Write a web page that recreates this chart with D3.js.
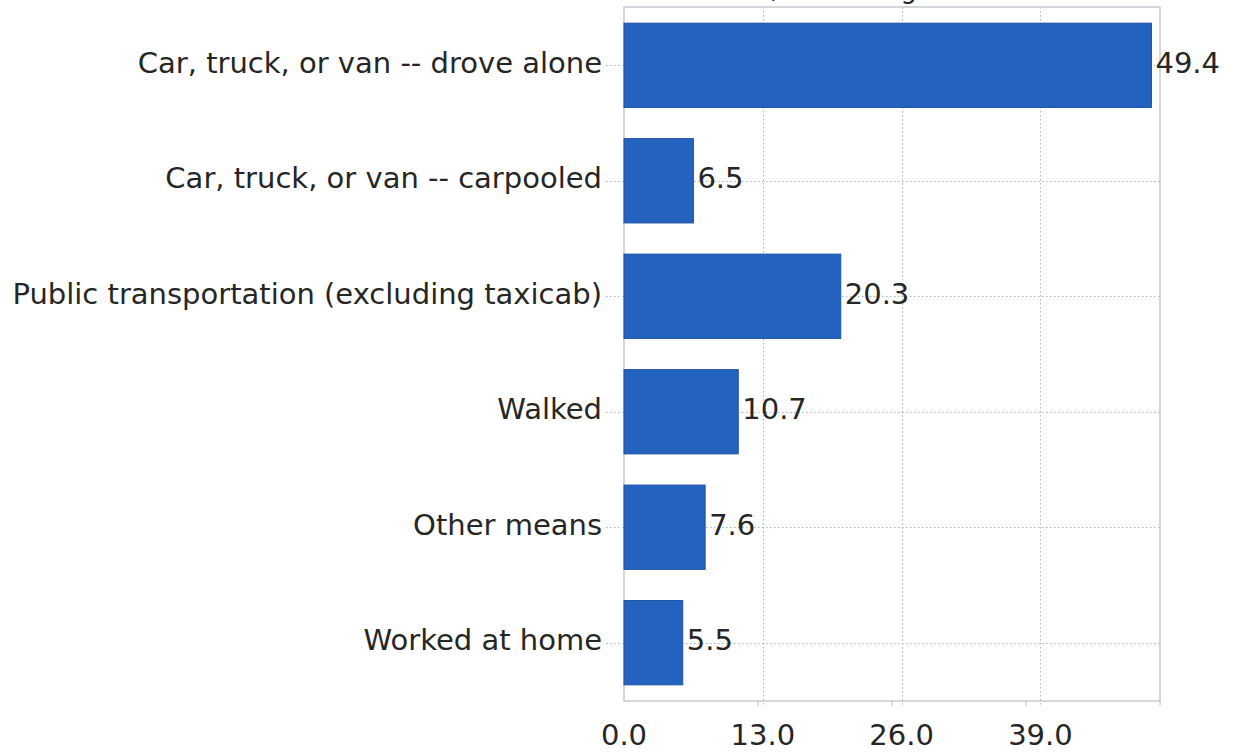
<!DOCTYPE html>
<html>
<head>
<meta charset="utf-8">
<script src="https://cdn.jsdelivr.net/npm/d3@7"></script>
<style>
  body { margin: 0; background: #fff; }
  svg text { font-family: "DejaVu Sans", sans-serif; fill: #262626; }
</style>
</head>
<body>
<div id="chart"></div>
<script>
// data
var categories = [
    "Car, truck, or van -- drove alone",
    "Car, truck, or van -- carpooled",
    "Public transportation (excluding taxicab)",
    "Walked",
    "Other means",
    "Worked at home"
];
var values = [49.4, 6.5, 20.3, 10.7, 7.6, 5.5];
var tickValues = [0, 13, 26, 39];
var titleText = "Means of Travel to Work, Percentage";

var WIDTH = 1234, HEIGHT = 754;
var FONT = "29px";
var plot = {left: 624, right: 1160, top: 7, bottom: 701};

var svg = d3.select("#chart").append("svg")
    .attr("width", WIDTH)
    .attr("height", HEIGHT);

// title sits above the frame, only its descenders show
svg.append("text")
    .attr("x", 933)
    .attr("y", -2)
    .attr("text-anchor", "end")
    .style("font-size", "26px")
    .text(titleText);

var x = d3.scaleLinear().domain([0, 50.2]).range([plot.left, plot.right]);
// the small tick marks under the axis do not line up with the grid
var xMinor = d3.scaleLinear().domain([0, 52]).range([plot.left, plot.right]);

var y = d3.scaleBand()
    .domain(categories)
    .range([plot.top, plot.bottom])
    .paddingInner(0.27)
    .paddingOuter(0.14);

// vertical grid
svg.append("g").selectAll("line")
    .data(tickValues.slice(1))
    .enter().append("line")
    .attr("x1", function (d) { return Math.round(x(d)) + 0.5; })
    .attr("x2", function (d) { return Math.round(x(d)) + 0.5; })
    .attr("y1", plot.top)
    .attr("y2", plot.bottom + 6)
    .attr("stroke", "#aab3bc")
    .attr("stroke-width", 1)
    .attr("stroke-dasharray", "1.5,2.5");

// category grid, runs from the label to the right edge
svg.append("g").selectAll("line")
    .data(categories)
    .enter().append("line")
    .attr("x1", plot.left - 18)
    .attr("x2", plot.right)
    .attr("y1", function (d) { return Math.round(y(d) + y.bandwidth() / 2) + 0.5; })
    .attr("y2", function (d) { return Math.round(y(d) + y.bandwidth() / 2) + 0.5; })
    .attr("stroke", "#aab3bc")
    .attr("stroke-width", 1)
    .attr("stroke-dasharray", "1.5,2.5");

// frame
svg.append("rect")
    .attr("x", plot.left)
    .attr("y", plot.top)
    .attr("width", plot.right - plot.left)
    .attr("height", plot.bottom - plot.top)
    .attr("fill", "none")
    .attr("stroke", "#c5cacf")
    .attr("stroke-width", 1.5);

// bars
svg.append("g").selectAll("rect")
    .data(values)
    .enter().append("rect")
    .attr("x", x(0))
    .attr("y", function (d, i) { return y(categories[i]); })
    .attr("width", function (d) { return x(d) - x(0); })
    .attr("height", y.bandwidth())
    .attr("fill", "#2462c0")
    .attr("stroke", "#1f53a3")
    .attr("stroke-width", 1);

// value labels
svg.append("g").selectAll("text")
    .data(values)
    .enter().append("text")
    .attr("x", function (d) { return x(d) + 4; })
    .attr("y", function (d, i) { return y(categories[i]) + y.bandwidth() / 2; })
    .attr("dy", "0.26em")
    .style("font-size", FONT)
    .text(function (d) { return d.toFixed(1); });

// category labels
svg.append("g").selectAll("text")
    .data(categories)
    .enter().append("text")
    .attr("x", plot.left - 22)
    .attr("y", function (d) { return y(d) + y.bandwidth() / 2; })
    .attr("dy", "0.26em")
    .attr("text-anchor", "end")
    .style("font-size", FONT)
    .text(function (d) { return d; });

// x axis: minor tick marks and labels
var axisG = svg.append("g").attr("transform", "translate(0," + plot.bottom + ")");
axisG.selectAll("line")
    .data(tickValues.slice(1).concat([52]))
    .enter().append("line")
    .attr("x1", function (d) { return xMinor(d); })
    .attr("x2", function (d) { return xMinor(d); })
    .attr("y1", 0)
    .attr("y2", 5)
    .attr("stroke", "#b8bec4")
    .attr("stroke-width", 1);

axisG.selectAll("text")
    .data(tickValues)
    .enter().append("text")
    .attr("x", function (d) { return x(d); })
    .attr("y", 34)
    .attr("dy", "0.36em")
    .attr("text-anchor", "middle")
    .style("font-size", FONT)
    .text(function (d) { return d.toFixed(1); });
</script>
</body>
</html>
